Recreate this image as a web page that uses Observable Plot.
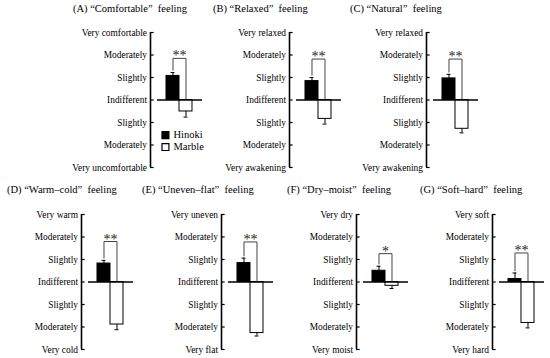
<!DOCTYPE html>
<html><head><meta charset="utf-8">
<script src="https://cdn.jsdelivr.net/npm/d3@7"></script>
<script src="https://cdn.jsdelivr.net/npm/@observablehq/plot@0.6"></script>
<style>
body{margin:0;background:#fff;}
#chart{position:relative;width:550px;height:358px;overflow:hidden;background:#fff;font-family:"Liberation Serif","Times New Roman",serif;}
.title{position:absolute;font-size:10.5px;white-space:pre;color:#000;line-height:12px;}
#chart svg, #chart svg text{font-family:"Liberation Serif","Times New Roman",serif !important;}
</style></head><body><div id="chart"></div>
<script>
// ---- data ----
const titles = ["(A) \u201cComfortable\u201d  feeling", "(B) \u201cRelaxed\u201d  feeling", "(C) \u201cNatural\u201d  feeling",
  "(D) \u201cWarm\u2013cold\u201d  feeling", "(E) \u201cUneven\u2013flat\u201d  feeling", "(F) \u201cDry\u2013moist\u201d  feeling", "(G) \u201cSoft\u2013hard\u201d  feeling"];
const topLabels = ["Very comfortable", "Very relaxed", "Very relaxed", "Very warm", "Very uneven", "Very dry", "Very soft"];
const bottomLabels = ["Very uncomfortable", "Very awakening", "Very awakening", "Very cold", "Very flat", "Very moist", "Very hard"];
const scaleLevels = [3, 2, 1, 0, -1, -2, -3];
const levelNames = ["", "Moderately", "Slightly", "Indifferent", "Slightly", "Moderately", ""];
const series = ["Hinoki", "Marble"];
const hinokiMean = [1.07, 0.84, 0.96, 0.82, 0.84, 0.50, 0.13];
const hinokiSE   = [0.15, 0.16, 0.18, 0.14, 0.22, 0.20, 0.27];
const marbleMean = [-0.51, -0.84, -1.28, -1.89, -2.27, -0.17, -1.82];
const marbleSE   = [0.25, 0.23, 0.18, 0.23, 0.13, 0.12, 0.22];
const significance = ["**", "**", "**", "**", "**", "*", "**"];
const bracketLevel = [1.85, 1.82, 1.82, 1.80, 1.78, 1.26, 1.29];

// ---- layout ----
const layout = [
  {axisX: 150, top: 20, titleX: 73, titleY: 3},
  {axisX: 289, top: 20, titleX: 213, titleY: 3},
  {axisX: 426, top: 20, titleX: 350, titleY: 3},
  {axisX: 81, top: 202, titleX: 7, titleY: 184},
  {axisX: 221, top: 202, titleX: 142, titleY: 184},
  {axisX: 356, top: 202, titleX: 287, titleY: 184},
  {axisX: 492, top: 202, titleX: 420, titleY: 184}
];
const font = "Liberation Serif, Times New Roman, serif";
const chart = document.getElementById("chart");

titles.forEach((title, i) => {
  const L = layout[i];
  const t = document.createElement("div");
  t.className = "title";
  t.textContent = title;
  t.style.left = L.titleX + "px";
  t.style.top = L.titleY + "px";
  chart.appendChild(t);

  const rows = series.map((s, k) => ({
    series: s, k,
    mean: k === 0 ? hinokiMean[i] : marbleMean[i],
    se: k === 0 ? hinokiSE[i] : marbleSE[i]
  }));
  const center = d => 1.73 + d.k;
  const errEnd = d => d.mean + Math.sign(d.mean) * d.se;
  const hin = rows[0];
  const bracket = [
    {x: 1.73, y: errEnd(hin) + 0.1},
    {x: 1.73, y: bracketLevel[i]},
    {x: 2.73, y: bracketLevel[i]},
    {x: 2.73, y: 0.04}
  ];
  const labelOf = (d, j) => j === 0 ? topLabels[i] : j === 6 ? bottomLabels[i] : levelNames[j];

  const left = Math.max(0, L.axisX - 92);
  const marginLeft = L.axisX - left;
  const marks = [
    Plot.axisY(scaleLevels, {tickFormat: (d) => labelOf(d, scaleLevels.indexOf(d)), tickSize: 0, tickPadding: 3.5, fontSize: 9.4, fontFamily: font, label: null}),
    Plot.ruleX([0], {y1: -3, y2: 3, stroke: "#000", strokeWidth: 1.6}),
    Plot.ruleY(scaleLevels, {x1: 0, x2: 0.28, stroke: "#000", strokeWidth: 1.2}),
    Plot.rectY(rows, {x1: d => 1.23 + d.k, x2: d => 2.23 + d.k, y1: 0, y2: "mean",
      fill: d => d.k ? "white" : "black", stroke: "black", strokeWidth: 1}),
    Plot.ruleX(rows, {x: center, y1: "mean", y2: errEnd, stroke: "#000", strokeWidth: 1}),
    Plot.ruleY(rows, {y: errEnd, x1: d => center(d) - 0.15, x2: d => center(d) + 0.15, stroke: "#000", strokeWidth: 1}),
    Plot.ruleY([0], {x1: 0.54, x2: 4, stroke: "#000", strokeWidth: 1.6}),
    Plot.line(bracket, {x: "x", y: "y", stroke: "#444", strokeWidth: 1}),
    Plot.text([significance[i]], {x: 2.23, y: bracketLevel[i], text: d => d, lineAnchor: "bottom", dy: 2, fontSize: 14, fontFamily: font, fill: "#222"})
  ];
  if (i === 0) {
    marks.push(
      Plot.dot(series, {x: 1.15, y: (d, k) => -1.56 - 0.53 * k, symbol: "square", r: 3.9,
        fill: (d, k) => k ? "white" : "black", stroke: "black", strokeWidth: 1.2}),
      Plot.text(series, {x: 1.77, y: (d, k) => -1.56 - 0.53 * k, text: d => d, textAnchor: "start", fontSize: 10.5, fontFamily: font, fill: "#000"})
    );
  }
  const svg = Plot.plot({
    width: marginLeft + 56,
    height: 155,
    marginLeft, marginRight: 4, marginTop: 12, marginBottom: 8,
    x: {domain: [0, 4], axis: null},
    y: {domain: [-3, 3]},
    style: {background: "transparent", fontFamily: font, fontSize: "9px", color: "#000", overflow: "visible"},
    marks
  });
  svg.style.position = "absolute";
  svg.style.left = left + "px";
  svg.style.top = L.top + "px";
  chart.appendChild(svg);
});
</script></body></html>
